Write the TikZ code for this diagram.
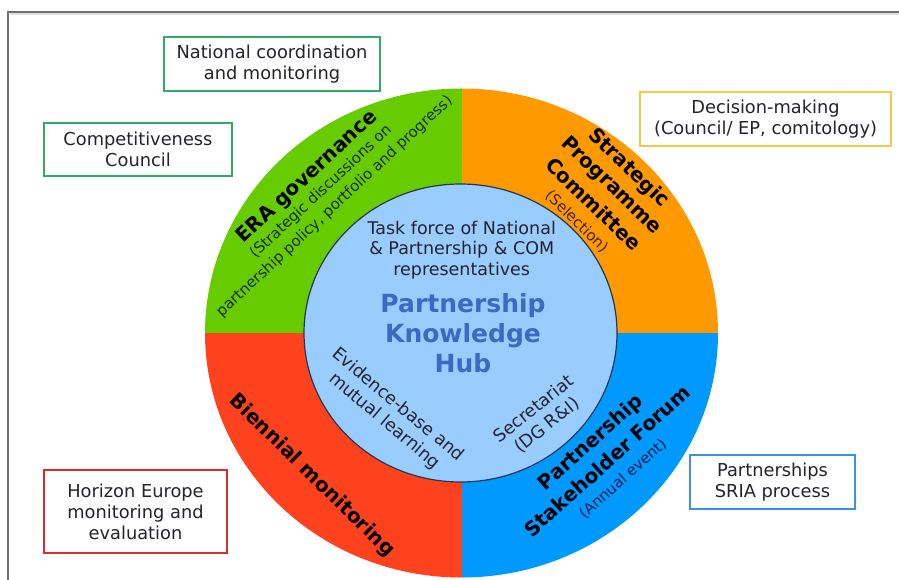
\documentclass[tikz,border=0pt]{standalone}
\usepackage{fontspec}
\setmainfont{DejaVu Sans}
\definecolor{cgreen}{RGB}{102,204,0}
\definecolor{corange}{RGB}{255,153,0}
\definecolor{cred}{RGB}{255,66,30}
\definecolor{cblue}{RGB}{0,153,255}
\definecolor{cinner}{RGB}{153,204,255}
\definecolor{cinnerline}{RGB}{35,55,85}
\definecolor{hubblue}{RGB}{60,105,195}
\definecolor{txt}{RGB}{35,35,45}
\definecolor{bgreen}{RGB}{50,170,100}
\definecolor{byellow}{RGB}{245,200,70}
\definecolor{bred}{RGB}{220,45,45}
\definecolor{bblue}{RGB}{60,145,225}
\definecolor{framec}{RGB}{110,110,110}
\definecolor{gsub}{RGB}{20,45,0}
\definecolor{osub}{RGB}{70,35,0}
\definecolor{bsub}{RGB}{0,30,80}
\begin{document}
\begin{tikzpicture}[x=1pt,y=1pt,
  infobox/.style={draw, line width=2pt, fill=white, align=center, text=txt,
    inner sep=0pt, font=\fontsize{17.8}{21}\selectfont},
  ringb/.style={inner sep=0pt, text=black, font=\bfseries\fontsize{20}{24}\selectfont},
  rings/.style={inner sep=0pt, font=\fontsize{15}{18}\selectfont},
  inn/.style={inner sep=0pt, align=center, text=txt, font=\fontsize{17.5}{21}\selectfont},
  hubtxt/.style={inner sep=0pt, align=center, text=hubblue, font=\bfseries\fontsize{25}{30}\selectfont}]
\useasboundingbox (0,0) rectangle (899,-580);
% frame
\draw[black!12, line width=2pt] (9.5,-14.5) -- (899,-14.5);
\draw[framec, line width=1.5pt] (8,-580) -- (8,-12) -- (899,-12);
% ring quadrants
\begin{scope}
  \clip (461.5,-333) ellipse [x radius=256.5, y radius=244.5];
  \fill[cgreen]  (200,-70)  rectangle (461.5,-333);
  \fill[corange] (461.5,-70) rectangle (722,-333);
  \fill[cred]    (200,-333) rectangle (461.5,-582);
  \fill[cblue]   (461.5,-333) rectangle (722,-582);
\end{scope}
% inner circle
\draw[cinnerline, line width=1.2pt, fill=cinner] (460.5,-333) ellipse [x radius=156.5, y radius=149];
% outer boxes
\node[infobox, draw=bgreen, minimum width=216pt, minimum height=54pt] (ncm) at (272,-64) {National coordination\\and monitoring};
\node[infobox, draw=bgreen, minimum width=188pt, minimum height=53pt] (cc) at (138,-149.5) {Competitiveness\\Council};
\node[infobox, draw=byellow, minimum width=251pt, minimum height=54pt] (dm) at (765.5,-119) {Decision-making\\(Council/ EP, comitology)};
\node[infobox, draw=bred, minimum width=183pt, minimum height=83pt] (he) at (135.5,-511.5) {Horizon Europe\\monitoring and\\evaluation};
\node[infobox, draw=bblue, minimum width=165pt, minimum height=54pt] (sria) at (772.5,-482) {Partnerships\\SRIA process};
% ring labels: green
\node[ringb, rotate=43] (era) at (307.4,-177.4) {ERA governance};
\node[rings, rotate=43, text=gsub] (eras) at (321,-192) {(Strategic discussions on};
\node[rings, rotate=43, text=gsub] (erap) at (334.6,-206.6) {partnership policy, portfolio and progress)};
% orange
\node[ringb, rotate=-44] (spc1) at (628.2,-168.2) {Strategic};
\node[ringb, rotate=-44] (spc2) at (611,-186) {Programme};
\node[ringb, rotate=-44] (spc3) at (593.8,-203.8) {Committee};
\node[rings, rotate=-44, text=osub] (spc4) at (576.6,-221.6) {(Selection)};
% red
\node[ringb, rotate=-44.5] (bm) at (311.7,-475.8) {Biennial monitoring};
% blue
\node[ringb, rotate=42] (psf1) at (591,-443) {Partnership};
\node[ringb, rotate=42] (psf2) at (607,-461) {Stakeholder Forum};
\node[rings, rotate=42, text=bsub] (psf3) at (623,-479) {(Annual event)};
% inner texts
\node[inn, font=\fontsize{17.5}{20.5}\selectfont] (tf) at (461.7,-250) {Task force of National\\\& Partnership \& COM\\representatives};
\node[hubtxt] (hub) at (463,-333) {Partnership\\Knowledge\\Hub};
\node[inn, rotate=-40] (ev) at (391,-413) {Evidence-base and\\mutual learning};
\node[inn, rotate=38.5] (sec) at (540.4,-417.1) {Secretariat\\(DG R\&I)};
\end{tikzpicture}
\end{document}
